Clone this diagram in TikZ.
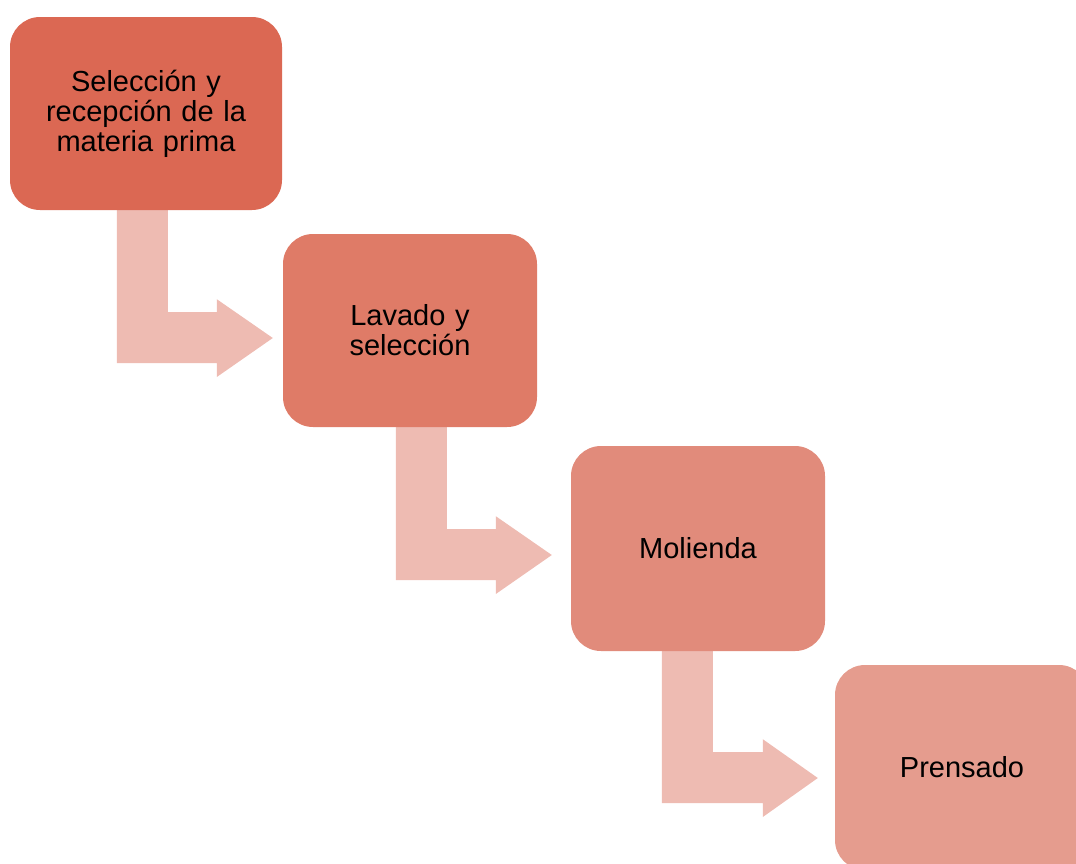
\documentclass[tikz,border=0pt]{standalone}
\usepackage{fontspec}
\setmainfont{Liberation Sans}
\usetikzlibrary{calc,backgrounds}
\definecolor{c1}{HTML}{DB6853}
\definecolor{c2}{HTML}{DF7B67}
\definecolor{c3}{HTML}{E18B7B}
\definecolor{c4}{HTML}{E59C8E}
\definecolor{ca}{HTML}{EEBBB2}
\begin{document}
\begin{tikzpicture}[x=1pt,y=-1pt,
  stepbox/.style={rectangle, rounded corners=30pt, inner sep=0pt, align=center,
    font=\fontsize{29}{30}\selectfont, text=black},
  arrowfill/.style={fill=ca}]
\useasboundingbox (0,0) rectangle (1076,863);
\clip (0,0) rectangle (1076,863);
% boxes
\node[stepbox, fill=c1, minimum width=272pt, minimum height=193pt, text width=250pt] (b1) at (146,113.5) {Selección y\\recepción de la\\materia prima};
\node[stepbox, fill=c2, minimum width=254pt, minimum height=193pt, text width=230pt] (b2) at (410,330.5) {Lavado y\\selección};
\node[stepbox, fill=c3, minimum width=254pt, minimum height=205pt, text width=230pt] (b3) at (698,548.5) {Molienda};
\node[stepbox, fill=c4, minimum width=254pt, minimum height=205pt, text width=230pt] (b4) at (962,767.5) {Prensado};
% bent block arrows from box to box (behind boxes)
\begin{scope}[on background layer]
\fill[arrowfill] ($(b1.south west)+(107,0)$) -- ++(51,0) -- ++(0,102) -- ++(49,0) -- ++(0,-13) -- ($(b2.west)+(-10,7.5)$) -- ++(-56,39) -- ++(0,-14) -- ++(-100,0) -- cycle;
\fill[arrowfill] ($(b2.south west)+(113,0)$) -- ++(51,0) -- ++(0,102) -- ++(49,0) -- ++(0,-13) -- ($(b3.west)+(-19,6.5)$) -- ++(-56,39) -- ++(0,-14) -- ++(-100,0) -- cycle;
\fill[arrowfill] ($(b3.south west)+(91,0)$) -- ++(51,0) -- ++(0,101) -- ++(50,0) -- ++(0,-13) -- ($(b4.west)+(-17,10.5)$) -- ++(-55,39) -- ++(0,-14) -- ++(-101,0) -- cycle;
\end{scope}
\end{tikzpicture}
\end{document}
